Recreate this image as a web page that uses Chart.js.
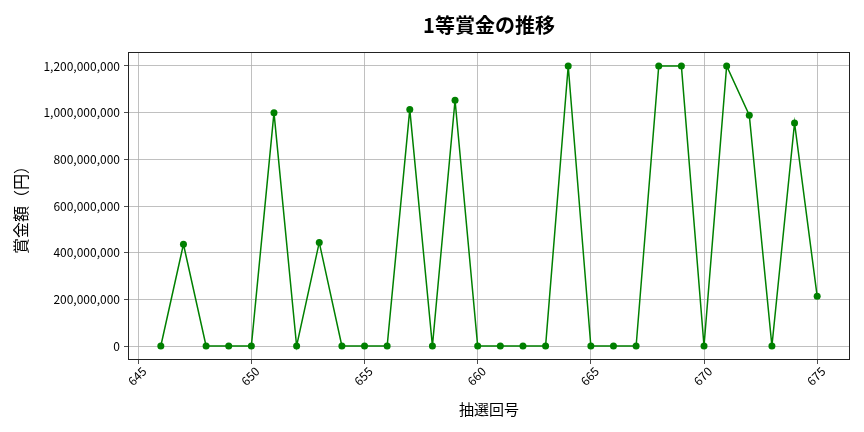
<!DOCTYPE html>
<html><head><meta charset="utf-8">
<script src="https://cdn.jsdelivr.net/npm/chart.js@4"></script>
<style>html,body{margin:0;padding:0;background:#fff;}#wrap{width:864px;height:432px;}</style>
</head><body><div id="wrap"><canvas id="c" width="864" height="432"></canvas></div>
<script>
const draws = [646,647,648,649,650,651,652,653,654,655,656,657,658,659,660,661,662,663,664,665,666,667,668,669,670,671,672,673,674,675];
const prizes = [0,436000000,0,0,0,1000000000,0,444000000,0,0,0,1014000000,0,1053000000,0,0,0,0,1200000000,0,0,0,1200000000,1200000000,0,1200000000,989000000,0,956000000,213000000];
const xTicks = [645,650,655,660,665,670,675];
const yTicks = [0,200000000,400000000,600000000,800000000,1000000000,1200000000];
const titleText = '1等賞金の推移';
const xLabel = '抽選回号';
const yLabel = '賞金額（円）';

const FONT = "'Noto Sans CJK JP', 'Noto Sans', sans-serif";
const frame = {
  id: 'frame',
  afterDraw(chart) {
    const a = chart.chartArea, ctx = chart.ctx;
    ctx.save();
    ctx.strokeStyle = '#222';
    ctx.lineWidth = 1;
    ctx.strokeRect(a.left + 0.5, a.top + 0.5, a.right - a.left - 1, a.bottom - a.top - 1);
    ctx.restore();
  }
};
new Chart(document.getElementById('c'), {
  type: 'line',
  data: {
    datasets: [{
      data: draws.map((d, i) => ({x: d, y: prizes[i]})),
      borderColor: '#008000',
      backgroundColor: '#008000',
      borderWidth: 1.5,
      pointRadius: 3.5,
      pointHoverRadius: 3.5,
      pointBorderWidth: 0,
      tension: 0
    }]
  },
  plugins: [frame],
  options: {
    responsive: false,
    animation: false,
    devicePixelRatio: 1,
    layout: {padding: {left: 0, right: 14, top: 0, bottom: 0}},
    plugins: {
      legend: {display: false},
      tooltip: {enabled: false},
      title: {
        display: true, text: titleText, color: '#000', fullSize: false,
        font: {family: FONT, size: 20, weight: 'bold'},
        padding: {top: 13, bottom: 15}
      }
    },
    scales: {
      x: {
        type: 'linear',
        min: 644.55, max: 676.45,
        afterBuildTicks: s => { s.ticks = xTicks.map(v => ({value: v})); },
        afterFit: s => { s.height = 72; },
        ticks: {
          color: '#000', font: {family: FONT, size: 12},
          maxRotation: 45, minRotation: 45, padding: 0, labelOffset: 6,
          callback: v => String(v)
        },
        grid: {color: '#b0b0b0', lineWidth: 0.8, tickColor: '#222', tickLength: 4},
        border: {display: false},
        title: {display: true, text: xLabel, color: '#000', font: {family: FONT, size: 15}, padding: {top: 0, bottom: 14}}
      },
      y: {
        type: 'linear',
        min: -60000000, max: 1260000000,
        afterBuildTicks: s => { s.ticks = yTicks.map(v => ({value: v})); },
        afterFit: s => { s.width = 128; },
        ticks: {
          color: '#000', font: {family: FONT, size: 12}, padding: 4,
          callback: v => v.toLocaleString('en-US')
        },
        grid: {color: '#b0b0b0', lineWidth: 0.8, tickColor: '#222', tickLength: 4},
        border: {display: false},
        title: {display: true, text: yLabel, color: '#000', font: {family: FONT, size: 16}, padding: {top: 11, bottom: 0}}
      }
    }
  }
});
</script></body></html>
